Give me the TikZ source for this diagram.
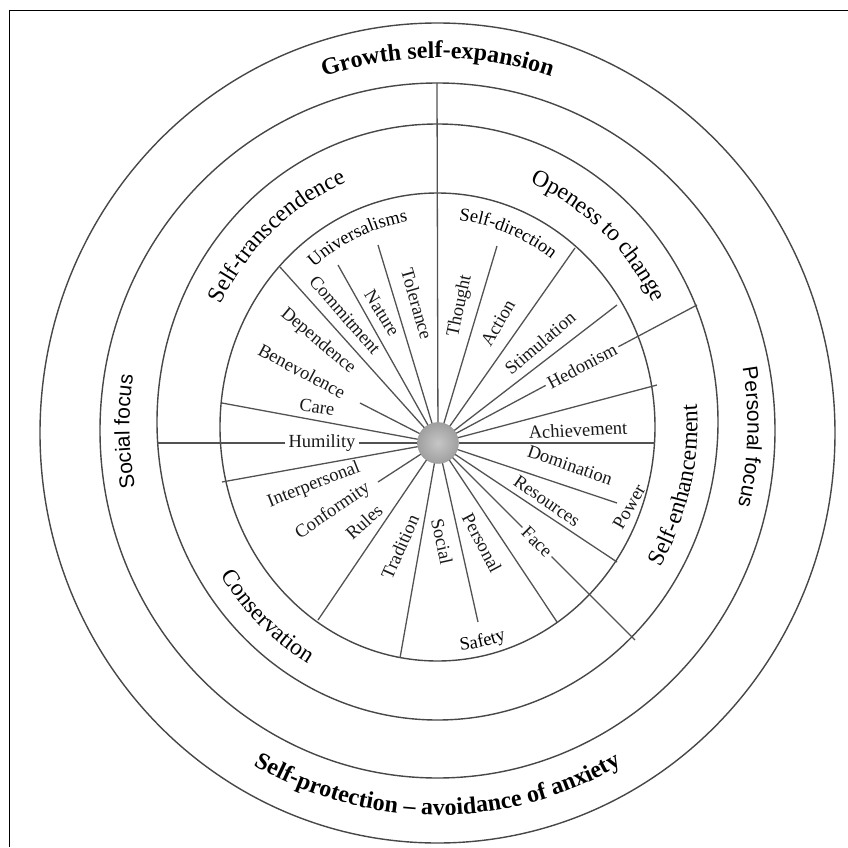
\documentclass[tikz,border=0pt]{standalone}
\usepackage{fontspec}
\setmainfont{Liberation Serif}
\newfontfamily\sidefont{Liberation Sans}
\usetikzlibrary{positioning,decorations.text}

\newcommand\ringfont{\fontsize{24}{24}\selectfont\bfseries}
\newcommand\domainfont{\fontsize{23.5}{24}\selectfont}
\newcommand\focusfont{\sidefont\fontsize{21}{21}\selectfont}
\newcommand\valuefont{\fontsize{18.5}{19}\selectfont}

\begin{document}
\begin{tikzpicture}[x=1pt, y=1pt,
            ring/.style={draw=black!72, line width=1.4pt},
            spoke/.style={draw=black!68, line width=1.3pt},
            valuetext/.style={font=\valuefont, text=black!90, inner sep=2pt},
            online/.style={valuetext, inner sep=3pt},
            hub/.style={circle, minimum size=41pt, inner sep=0pt, draw=gray!80, inner color=gray!45, outer color=gray!75},
            arctext/.style={decorate, decoration={text along path, text align=center, text={#1}}}
    ]
        \useasboundingbox (-438,-404) rectangle (410,443);

        % Frame
        \draw[black, line width=1pt] (410,432) -- (-428,432) -- (-428,-404);

        % Rings
        \draw[ring] (-0.5,10) ellipse [x radius=397.5pt, y radius=410pt];
        \draw[ring] (-0.5,12.5) ellipse [x radius=337.5pt, y radius=347.5pt];
        \draw[ring] (-0.5,21) ellipse [x radius=280.5pt, y radius=298pt];
        \draw[ring] (-0.5,16) ellipse [x radius=217.5pt, y radius=234pt];

        % Hub
        \node[hub] (hub) at (0,0) {};

        % Spoke ends
        \coordinate (top_end) at (-1,360);
        \coordinate (thought_end) at (59,197);
        \coordinate (direction_end) at (137,195);
        \coordinate (stimulation_end) at (179,138);
        \coordinate (hedonism_end) at (259,138);
        \coordinate (achievement_end) at (219,58);
        \coordinate (right_end) at (217,0);
        \coordinate (domination_end) at (179,-60);
        \coordinate (power_end) at (179,-119);
        \coordinate (face_end) at (197,-197);
        \coordinate (safety_end) at (119,-179);
        \coordinate (social_end) at (40,-179);
        \coordinate (tradition_end) at (-38,-215);
        \coordinate (rules_end) at (-120,-177);
        \coordinate (conformity_end) at (-60,-39);
        \coordinate (interpersonal_end) at (-216,-39);
        \coordinate (humility_end) at (-281,0);
        \coordinate (care_end) at (-216,40);
        \coordinate (care_short) at (-78,40);
        \coordinate (universal_end) at (-158,176);
        \coordinate (commitment_end) at (-100,178);
        \coordinate (nature_end) at (-60,198);

        % Values
        \node[valuetext, rotate=-49] (commitment) at (-93,128) {Commitment};
        \node[valuetext, rotate=-58] (nature) at (-56,130) {Nature};
        \node[valuetext, rotate=-74] (tolerance) at (-21,139) {Tolerance};
        \node[valuetext, rotate=-40] (dependence) at (-120,102) {Dependence};
        \node[valuetext, rotate=-28] (benevolence) at (-136,72) {Benevolence};
        \node[valuetext, rotate=-8] (care) at (-121,36) {Care};
        \node[online] (humility) at (-116,0) {Humility};
        \node[valuetext, rotate=21.5] (interpersonal) at (-124,-42) {Interpersonal};
        \node[valuetext, rotate=34.6] (conformity) at (-105,-68) {Conformity};
        \node[valuetext, rotate=42] (rules) at (-74,-79) {Rules};
        \node[valuetext, rotate=66] (tradition) at (-38,-104) {Tradition};
        \node[valuetext, rotate=-77.5] (social) at (4,-99) {Social};
        \node[valuetext, rotate=-62] (personal) at (44,-100) {Personal};
        \node[online, rotate=-45] (face) at (99,-99) {Face};
        \node[valuetext, rotate=60] (power) at (191,-64) {Power};
        \node[valuetext, rotate=-34.7] (resources) at (109,-58) {Resources};
        \node[valuetext, rotate=-19] (domination) at (132,-22) {Domination};
        \node[valuetext, rotate=3] (achievement) at (140,13) {Achievement};
        \node[online, rotate=28] (hedonism) at (144,77) {Hedonism};
        \node[valuetext, rotate=40.6] (stimulation) at (102,100) {Stimulation};
        \node[valuetext, rotate=60] (action) at (60,120) {Action};
        \node[valuetext, rotate=78] (thought) at (22,137) {Thought};

        % Spokes
        \draw[spoke] (hub) -- (top_end);
        \draw[spoke] (hub) -- (thought_end);
        \draw[spoke] (hub) -- (direction_end);
        \draw[spoke] (hub) -- (stimulation_end);
        \draw[spoke] (hub) -- (hedonism) -- (hedonism_end);
        \draw[spoke] (hub) -- (achievement_end);
        \draw[spoke] (hub) -- (right_end);
        \draw[spoke] (hub) -- (domination_end);
        \draw[spoke] (hub) -- (power_end);
        \draw[spoke] (hub) -- (face) -- (face_end);
        \draw[spoke] (hub) -- (safety_end);
        \draw[spoke] (hub) -- (social_end);
        \draw[spoke] (hub) -- (tradition_end);
        \draw[spoke] (hub) -- (rules_end);
        \draw[spoke] (hub) -- (conformity_end);
        \draw[spoke] (hub) -- (interpersonal_end);
        \draw[spoke] (hub) -- (humility) -- (humility_end);
        \draw[spoke] (hub) -- (care_end);
        \draw[spoke] (hub) -- (care_short);
        \draw[spoke] (hub) -- (universal_end);
        \draw[spoke] (hub) -- (commitment_end);
        \draw[spoke] (hub) -- (nature_end);

        % Outer ring texts
        \begin{scope}[shift={(-0.5,11)}]
            \path[arctext={|\ringfont|Growth self-expansion}] (150:363pt and 374pt) arc[start angle=150, end angle=30, x radius=363pt, y radius=374pt];
            \path[arctext={|\ringfont|Self-protection – avoidance of anxiety}] (-150:372pt and 383pt) arc[start angle=-150, end angle=-30, x radius=372pt, y radius=383pt];
        \end{scope}

        % Focus texts
        \begin{scope}[shift={(-0.5,17)}]
            \path[arctext={|\focusfont|Social focus}] (221:308pt and 322pt) arc[start angle=221, end angle=141, x radius=308pt, y radius=322pt];
            \path[arctext={|\focusfont|Personal focus}] (38:310pt and 324pt) arc[start angle=38, end angle=-42, x radius=310pt, y radius=324pt];
        \end{scope}

        % Domain texts
        \begin{scope}[shift={(-0.5,18.5)}]
            \path[arctext={|\domainfont|Self-transcendence}] (162:244pt and 261pt) arc[start angle=162, end angle=102, x radius=244pt, y radius=261pt];
            \path[arctext={|\domainfont|Openess to change}] (78:244pt and 261pt) arc[start angle=78, end angle=18, x radius=244pt, y radius=261pt];
            \path[arctext={|\domainfont|Self-enhancement}] (-43.5:260pt and 277pt) arc[start angle=-43.5, end angle=16.5, x radius=260pt, y radius=277pt];
            \path[arctext={|\domainfont|Conservation}] (-163:259pt and 276pt) arc[start angle=-163, end angle=-103, x radius=259pt, y radius=276pt];
        \end{scope}

        % Curved values
        \begin{scope}[shift={(-0.5,16)}]
            \path[arctext={|\valuefont|Universalisms}] (144:193pt and 208pt) arc[start angle=144, end angle=84, x radius=193pt, y radius=208pt];
            \path[arctext={|\valuefont|Self-direction}] (99:193pt and 208pt) arc[start angle=99, end angle=39, x radius=193pt, y radius=208pt];
            \path[arctext={|\valuefont|Safety}] (-107.5:210pt and 225pt) arc[start angle=-107.5, end angle=-47.5, x radius=210pt, y radius=225pt];
        \end{scope}

    \end{tikzpicture}
\end{document}
